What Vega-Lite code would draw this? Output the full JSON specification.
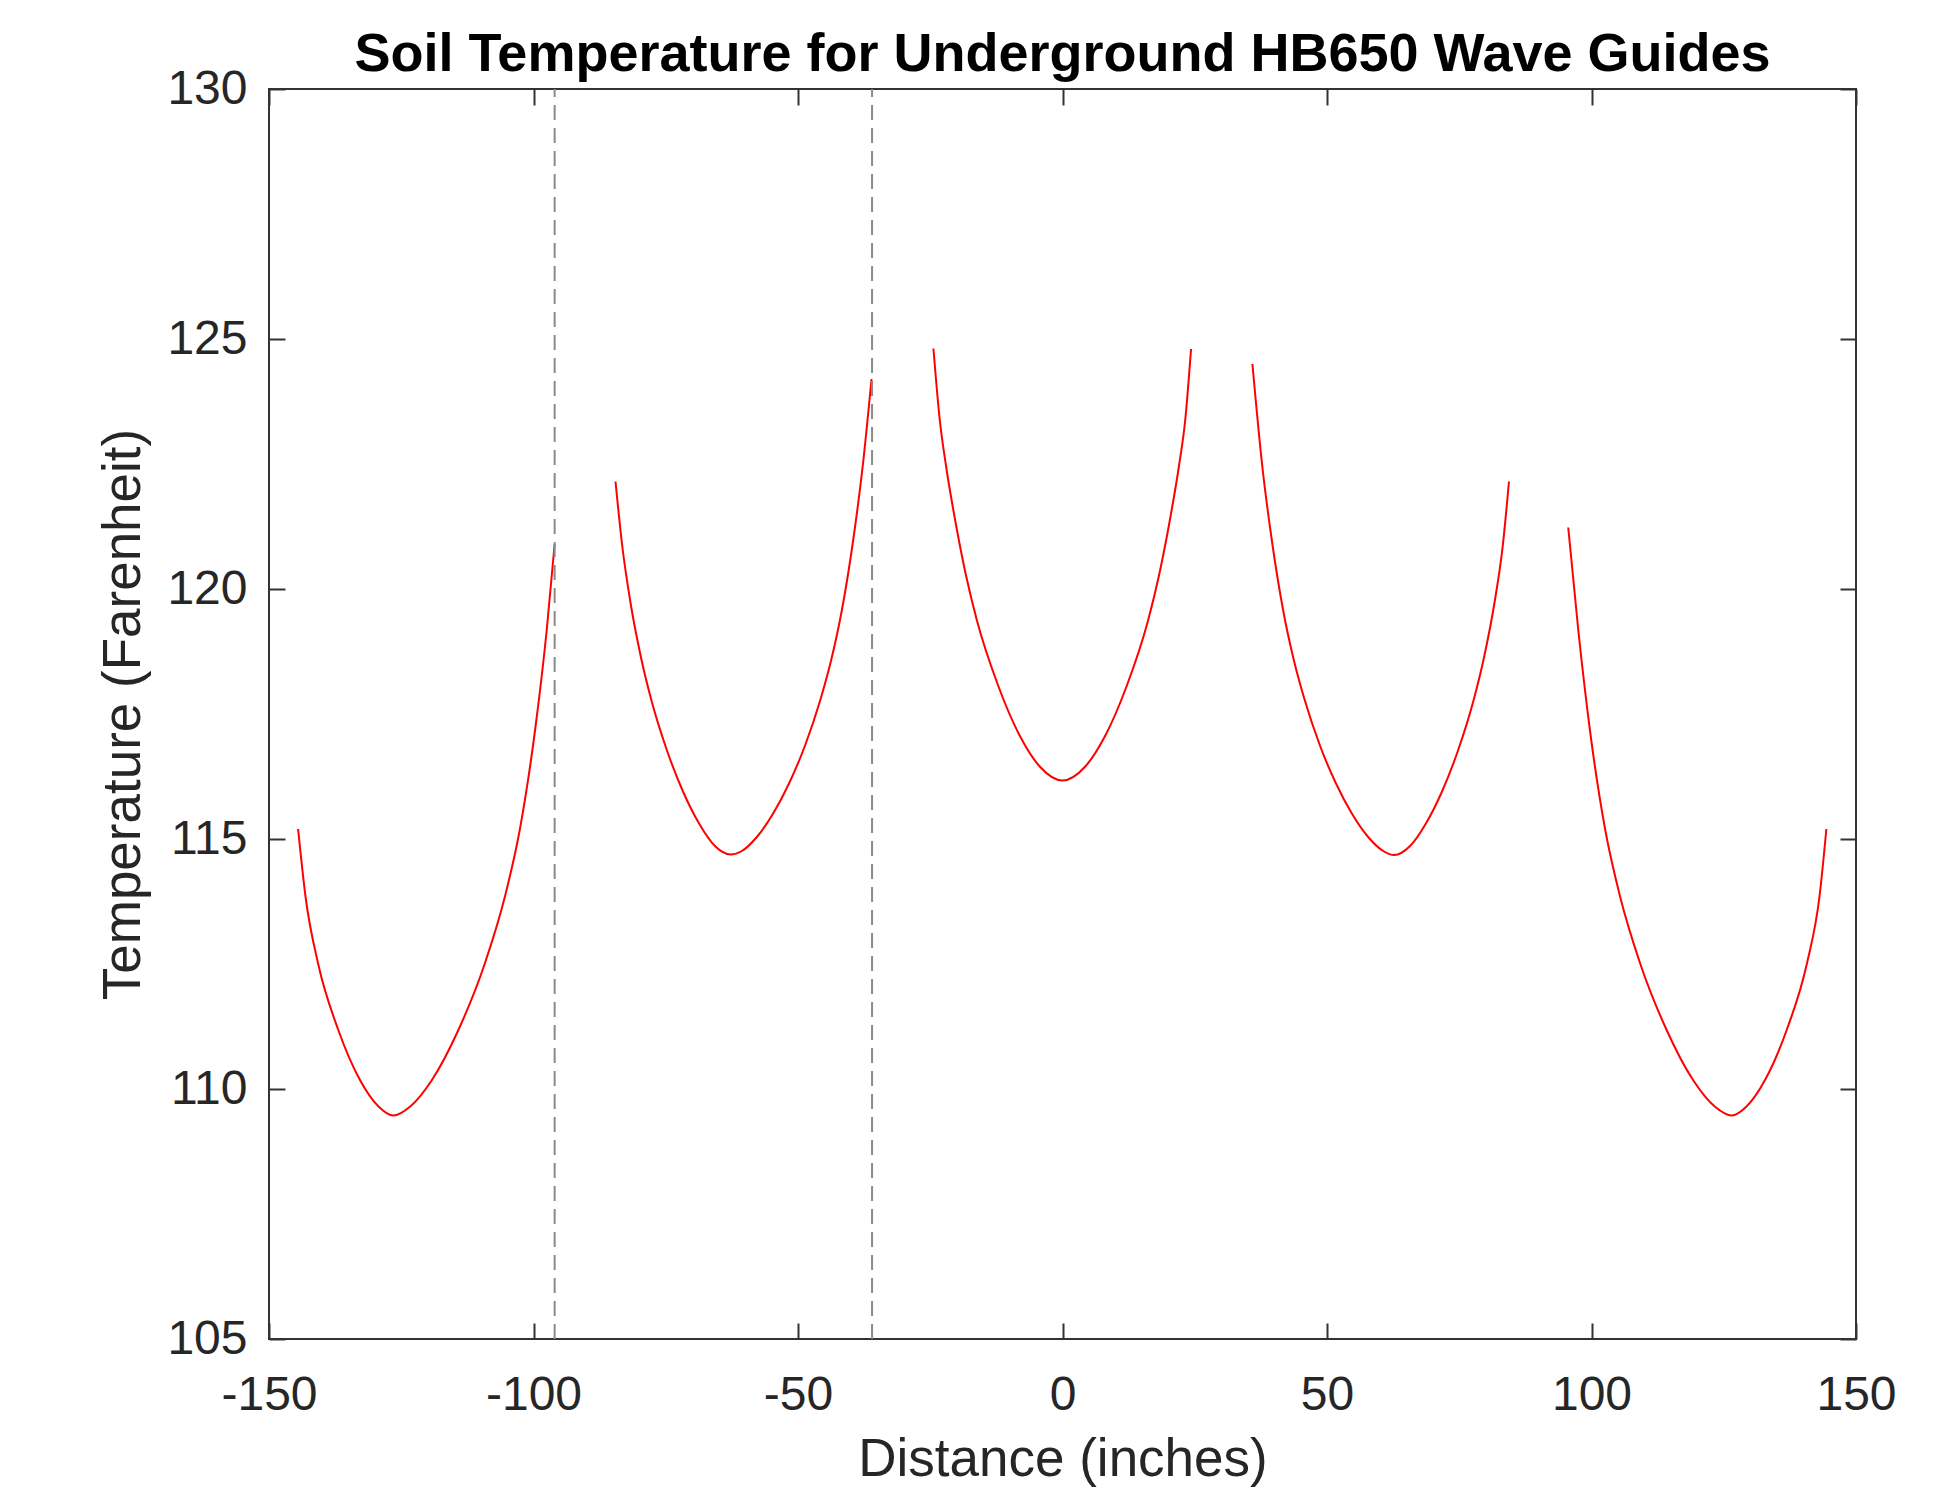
{
  "$schema": "https://vega.github.io/schema/vega-lite/v6.json",
  "width": 1587,
  "height": 1250,
  "autosize": {"type": "none"},
  "padding": {"left": 269, "top": 89, "right": 101, "bottom": 156},
  "background": "white",
  "title": {
    "text": "Soil Temperature for Underground HB650 Wave Guides",
    "font": "Liberation Sans",
    "fontSize": 54,
    "fontWeight": "bold",
    "color": "#000000",
    "frame": "group",
    "anchor": "middle",
    "baseline": "alphabetic",
    "offset": -60
  },
  "config": {
    "view": {"stroke": "#333333", "strokeWidth": 2},
    "axis": {
      "labelFont": "Liberation Sans",
      "titleFont": "Liberation Sans",
      "labelFontSize": 48,
      "titleFontSize": 53,
      "titleFontWeight": "normal",
      "labelColor": "#262626",
      "titleColor": "#262626",
      "tickColor": "#333333",
      "tickWidth": 2,
      "tickSize": -16,
      "domain": false,
      "grid": false,
      "labelFlush": false,
      "labelOverlap": false
    }
  },
  "resolve": {"axis": {"x": "independent", "y": "independent"}},
  "layer": [
    {
      "data": {
        "values": [
          {"seg": 1, "x": -144.5, "T": 115.2},
          {"seg": 1, "x": -143.1, "T": 113.85},
          {"seg": 1, "x": -140.7, "T": 112.5},
          {"seg": 1, "x": -136.9, "T": 111.18},
          {"seg": 1, "x": -132.8, "T": 110.18},
          {"seg": 1, "x": -129.3, "T": 109.65},
          {"seg": 1, "x": -126.5, "T": 109.47},
          {"seg": 1, "x": -123.3, "T": 109.65},
          {"seg": 1, "x": -119.2, "T": 110.18},
          {"seg": 1, "x": -114.2, "T": 111.18},
          {"seg": 1, "x": -109.2, "T": 112.51},
          {"seg": 1, "x": -105.4, "T": 113.85},
          {"seg": 1, "x": -102.6, "T": 115.18},
          {"seg": 1, "x": -99.7, "T": 117.18},
          {"seg": 1, "x": -97.5, "T": 119.18},
          {"seg": 1, "x": -96.0, "T": 120.9},
          {"seg": 2, "x": -84.5, "T": 122.15},
          {"seg": 2, "x": -83.2, "T": 120.84},
          {"seg": 2, "x": -81.7, "T": 119.75},
          {"seg": 2, "x": -79.7, "T": 118.64},
          {"seg": 2, "x": -77.7, "T": 117.77},
          {"seg": 2, "x": -74.7, "T": 116.75},
          {"seg": 2, "x": -71.7, "T": 115.94},
          {"seg": 2, "x": -68.7, "T": 115.31},
          {"seg": 2, "x": -65.7, "T": 114.86},
          {"seg": 2, "x": -62.7, "T": 114.69},
          {"seg": 2, "x": -60.7, "T": 114.755},
          {"seg": 2, "x": -57.7, "T": 115.05},
          {"seg": 2, "x": -54.7, "T": 115.51},
          {"seg": 2, "x": -51.7, "T": 116.11},
          {"seg": 2, "x": -48.7, "T": 116.86},
          {"seg": 2, "x": -45.7, "T": 117.81},
          {"seg": 2, "x": -43.7, "T": 118.59},
          {"seg": 2, "x": -41.7, "T": 119.58},
          {"seg": 2, "x": -39.7, "T": 120.88},
          {"seg": 2, "x": -37.7, "T": 122.52},
          {"seg": 2, "x": -36.1, "T": 124.2},
          {"seg": 3, "x": -24.4, "T": 124.81},
          {"seg": 3, "x": -23.2, "T": 123.38},
          {"seg": 3, "x": -22.0, "T": 122.45},
          {"seg": 3, "x": -20.3, "T": 121.38},
          {"seg": 3, "x": -18.3, "T": 120.3},
          {"seg": 3, "x": -16.2, "T": 119.38},
          {"seg": 3, "x": -12.1, "T": 118.05},
          {"seg": 3, "x": -8.0, "T": 117.05},
          {"seg": 3, "x": -4.3, "T": 116.45},
          {"seg": 3, "x": 0, "T": 116.17},
          {"seg": 3, "x": 4.3, "T": 116.45},
          {"seg": 3, "x": 8.0, "T": 117.05},
          {"seg": 3, "x": 12.1, "T": 118.05},
          {"seg": 3, "x": 16.2, "T": 119.38},
          {"seg": 3, "x": 18.3, "T": 120.3},
          {"seg": 3, "x": 20.3, "T": 121.38},
          {"seg": 3, "x": 22.0, "T": 122.45},
          {"seg": 3, "x": 23.2, "T": 123.38},
          {"seg": 3, "x": 24.3, "T": 124.8},
          {"seg": 4, "x": 35.9, "T": 124.5},
          {"seg": 4, "x": 37.7, "T": 122.52},
          {"seg": 4, "x": 39.7, "T": 120.88},
          {"seg": 4, "x": 41.7, "T": 119.58},
          {"seg": 4, "x": 43.7, "T": 118.59},
          {"seg": 4, "x": 45.7, "T": 117.81},
          {"seg": 4, "x": 48.7, "T": 116.86},
          {"seg": 4, "x": 51.7, "T": 116.11},
          {"seg": 4, "x": 54.7, "T": 115.51},
          {"seg": 4, "x": 57.7, "T": 115.05},
          {"seg": 4, "x": 60.7, "T": 114.755},
          {"seg": 4, "x": 62.7, "T": 114.68},
          {"seg": 4, "x": 65.7, "T": 114.86},
          {"seg": 4, "x": 68.7, "T": 115.31},
          {"seg": 4, "x": 71.7, "T": 115.94},
          {"seg": 4, "x": 74.7, "T": 116.75},
          {"seg": 4, "x": 77.7, "T": 117.77},
          {"seg": 4, "x": 79.7, "T": 118.64},
          {"seg": 4, "x": 81.7, "T": 119.75},
          {"seg": 4, "x": 83.2, "T": 120.84},
          {"seg": 4, "x": 84.4, "T": 122.15},
          {"seg": 5, "x": 95.6, "T": 121.23},
          {"seg": 5, "x": 97.5, "T": 119.18},
          {"seg": 5, "x": 99.7, "T": 117.18},
          {"seg": 5, "x": 102.6, "T": 115.18},
          {"seg": 5, "x": 105.4, "T": 113.85},
          {"seg": 5, "x": 109.2, "T": 112.51},
          {"seg": 5, "x": 114.2, "T": 111.18},
          {"seg": 5, "x": 119.2, "T": 110.18},
          {"seg": 5, "x": 123.3, "T": 109.65},
          {"seg": 5, "x": 126.5, "T": 109.47},
          {"seg": 5, "x": 129.3, "T": 109.65},
          {"seg": 5, "x": 132.8, "T": 110.18},
          {"seg": 5, "x": 136.9, "T": 111.18},
          {"seg": 5, "x": 140.7, "T": 112.5},
          {"seg": 5, "x": 143.1, "T": 113.85},
          {"seg": 5, "x": 144.4, "T": 115.2}
        ]
      },
      "mark": {"type": "line", "color": "#ff0000", "strokeWidth": 2, "interpolate": "monotone"},
      "encoding": {
        "x": {
          "field": "x",
          "type": "quantitative",
          "scale": {"domain": [-150, 150], "nice": false, "zero": false},
          "axis": {
            "orient": "bottom",
            "values": [-150, -100, -50, 0, 50, 100, 150],
            "labelExpr": "toString(datum.value)",
            "labelPadding": 48,
            "title": "Distance (inches)",
            "titlePadding": 14
          }
        },
        "y": {
          "field": "T",
          "type": "quantitative",
          "scale": {"domain": [105, 130], "nice": false, "zero": false},
          "axis": {
            "orient": "left",
            "values": [105, 110, 115, 120, 125, 130],
            "labelExpr": "toString(datum.value)",
            "labelPadding": 38,
            "title": "Temperature (Farenheit)",
            "titlePadding": 16
          }
        },
        "detail": {"field": "seg", "type": "nominal"}
      }
    },
    {
      "data": {"values": [{"x": -96}, {"x": -36}]},
      "mark": {"type": "rule", "color": "#8a8a8a", "strokeWidth": 2, "strokeDash": [15, 8]},
      "encoding": {
        "x": {
          "field": "x",
          "type": "quantitative",
          "scale": {"domain": [-150, 150], "nice": false, "zero": false},
          "axis": {
            "orient": "top",
            "values": [-150, -100, -50, 0, 50, 100, 150],
            "labels": false,
            "title": null
          }
        },
        "y": {
          "datum": 105,
          "type": "quantitative",
          "scale": {"domain": [105, 130], "nice": false, "zero": false},
          "axis": {
            "orient": "right",
            "values": [105, 110, 115, 120, 125, 130],
            "labels": false,
            "title": null
          }
        },
        "y2": {"datum": 130}
      }
    }
  ]
}
